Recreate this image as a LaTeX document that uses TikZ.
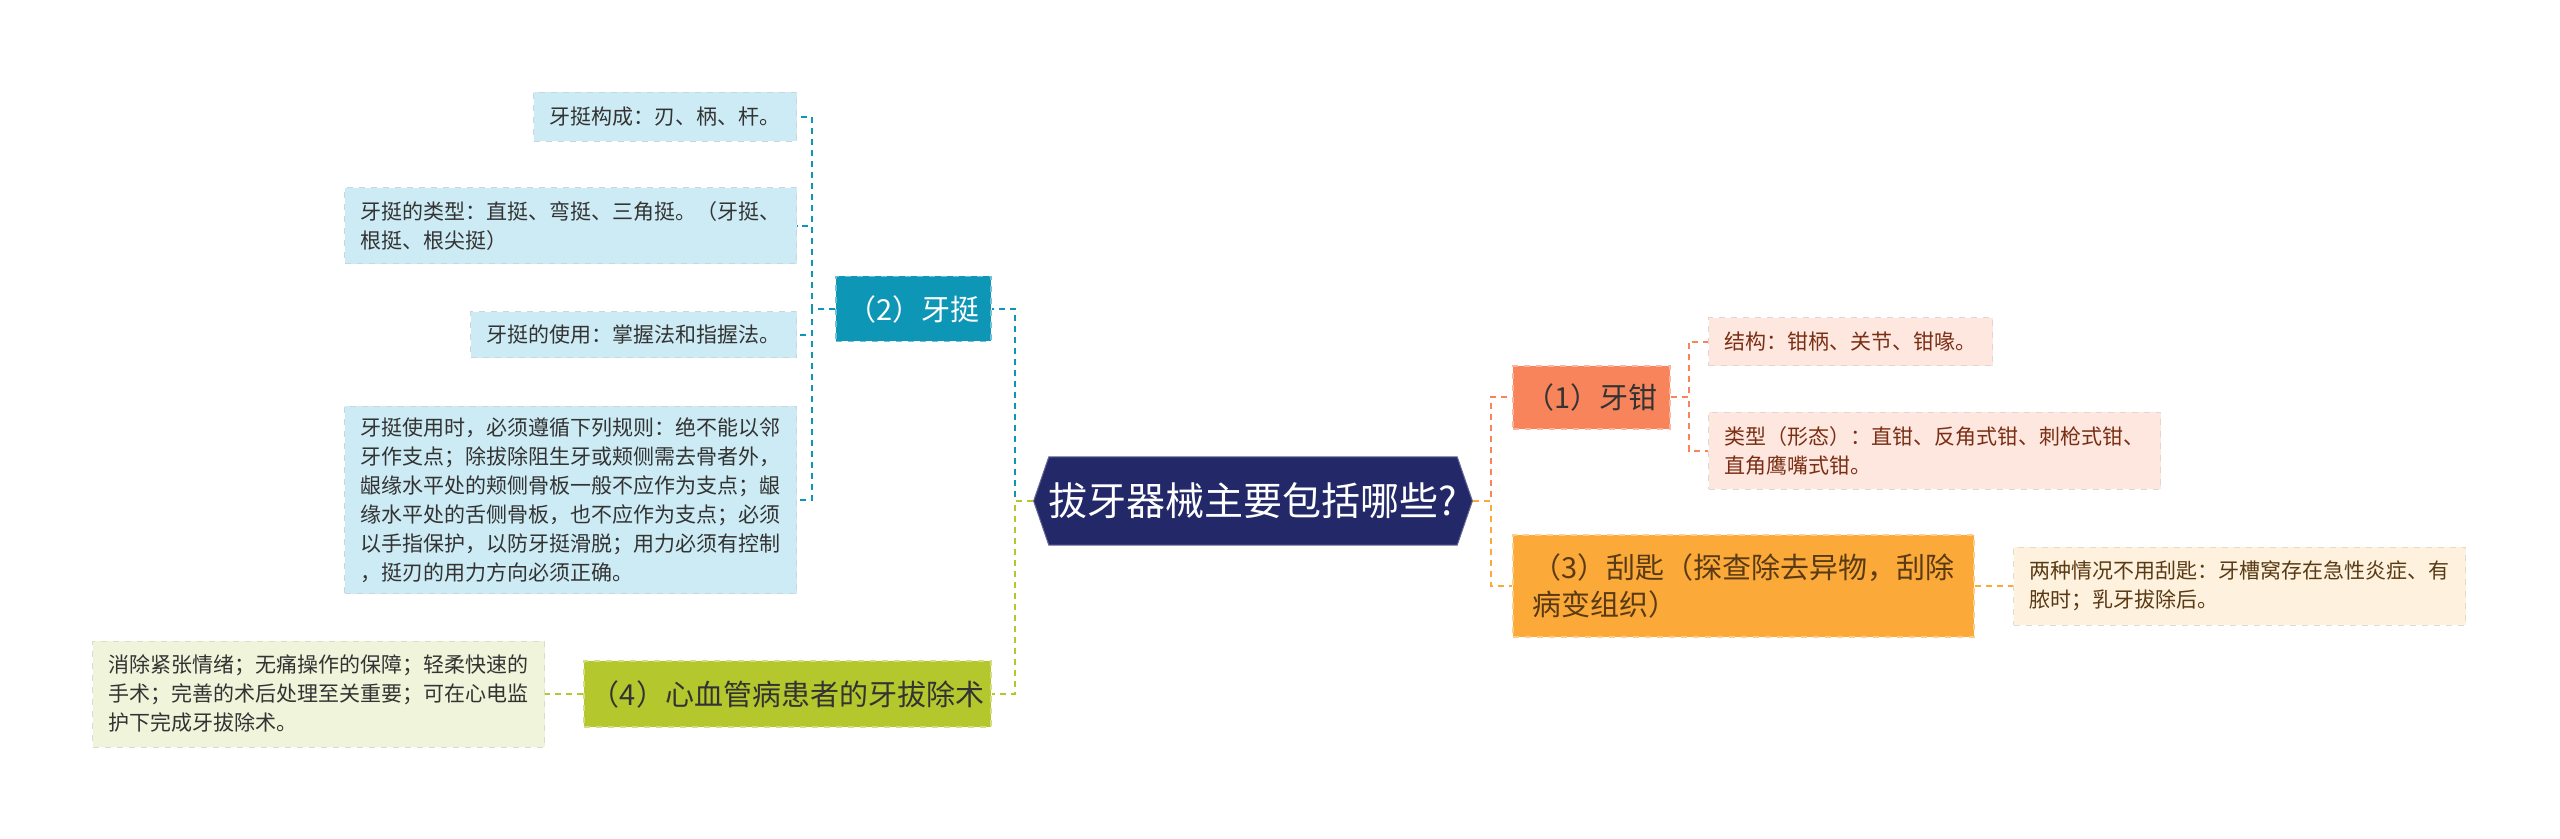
\documentclass[tikz,border=0pt]{standalone}
\usepackage{fontspec}
\setmainfont{Noto Sans CJK SC}
\usetikzlibrary{shapes.symbols}
\definecolor{rootc}{HTML}{222868}
\definecolor{tealc}{HTML}{0E96B7}
\definecolor{tealleaf}{HTML}{CDEBF4}
\definecolor{greenc}{HTML}{B4C82D}
\definecolor{greenleaf}{HTML}{EFF4DA}
\definecolor{coralc}{HTML}{F7845A}
\definecolor{coralleaf}{HTML}{FDE7DF}
\definecolor{orangec}{HTML}{FBAA3A}
\definecolor{orangeleaf}{HTML}{FEF1DE}
\definecolor{darktext}{HTML}{333333}
\definecolor{browntext}{HTML}{7A2E14}
\definecolor{ochretext}{HTML}{5A3A14}
\begin{document}
\begin{tikzpicture}[
x=0.5pt, y=-0.5pt,
every node/.style={align=left, inner xsep=8pt, inner ysep=5.5pt},
smalltxt/.style={font=\fontsize{10.5}{14.5}\selectfont},
midtxt/.style={font=\fontsize{14.5}{18.75}\selectfont},
leafbox/.style={smalltxt, fill=#1, draw=#1!80!black!60!white, dashed, line width=0.5pt},
branchbox/.style={midtxt, fill=#1, draw=#1!60!white, dashed, line width=0.6pt, inner xsep=3pt},
link/.style={draw=#1, dash pattern=on 3pt off 2.5pt, line width=1pt},
mainq/.style={shape=signal, signal to=west and east, signal pointer angle=142,
  fill=rootc, draw=rootc!70!white, line width=0.5pt, text=white,
  font=\fontsize{19.5}{22}\selectfont, minimum width=216pt, minimum height=44pt, inner xsep=0pt}
]
\useasboundingbox (0,0) rectangle (2560,839);

\node[mainq] (root) at (1253,501) {拔牙器械主要包括哪些?};

\node[branchbox=tealc, text=white, minimum width=77.5pt, minimum height=32.5pt, align=center] (n2) at (913.5,309) {（2）牙挺};
\node[branchbox=greenc, text=darktext, minimum width=203.5pt, minimum height=33pt, align=center] (n4) at (787.5,694) {（4）心血管病患者的牙拔除术};
\node[branchbox=coralc, text=darktext, minimum width=78.5pt, minimum height=31.5pt, align=center] (n1) at (1591.5,397.5) {（1）牙钳};
\node[branchbox=orangec, text=ochretext, minimum width=230.5pt, minimum height=51pt] (n3) at (1743.5,586) {（3）刮匙（探查除去异物，刮除\\病变组织）};

\node[leafbox=tealleaf, text=darktext, anchor=east, minimum height=24.5pt] (a1) at (797,117) {牙挺构成：刃、柄、杆。};
\node[leafbox=tealleaf, text=darktext, anchor=east, minimum height=38pt] (a2) at (797,226) {牙挺的类型：直挺、弯挺、三角挺。（牙挺、\\根挺、根尖挺）};
\node[leafbox=tealleaf, text=darktext, anchor=east, minimum height=23pt] (a3) at (797,335) {牙挺的使用：掌握法和指握法。};
\node[leafbox=tealleaf, text=darktext, anchor=east, minimum height=93.5pt] (a4) at (797,500) {牙挺使用时，必须遵循下列规则：绝不能以邻\\牙作支点；除拔除阻生牙或颊侧需去骨者外，\\龈缘水平处的颊侧骨板一般不应作为支点；龈\\缘水平处的舌侧骨板，也不应作为支点；必须\\以手指保护，以防牙挺滑脱；用力必须有控制\\，挺刃的用力方向必须正确。};

\node[leafbox=greenleaf, text=darktext, anchor=east, minimum height=53pt] (d1) at (545,694) {消除紧张情绪；无痛操作的保障；轻柔快速的\\手术；完善的术后处理至关重要；可在心电监\\护下完成牙拔除术。};

\node[leafbox=coralleaf, text=browntext, anchor=west, minimum height=24pt] (b1) at (1708,342) {结构：钳柄、关节、钳喙。};
\node[leafbox=coralleaf, text=browntext, anchor=west, minimum height=38.5pt] (b2) at (1708,451) {类型（形态）：直钳、反角式钳、刺枪式钳、\\直角鹰嘴式钳。};

\node[leafbox=orangeleaf, text=ochretext, anchor=west, minimum height=39pt] (c1) at (2013,586) {两种情况不用刮匙：牙槽窝存在急性炎症、有\\脓时；乳牙拔除后。};

\draw[link=tealc] (root.west) -- ++(-18,0) |- (n2.east);
\draw[link=greenc] (root.west) -- ++(-18,0) |- (n4.east);
\draw[link=tealc] (n2.west) -- ++(-23,0) |- (a1.east);
\draw[link=tealc] (n2.west) -- ++(-23,0) |- (a2.east);
\draw[link=tealc] (n2.west) -- ++(-23,0) |- (a3.east);
\draw[link=tealc] (n2.west) -- ++(-23,0) |- (a4.east);
\draw[link=greenc] (n4.west) -- (d1.east);
\draw[link=coralc] (root.east) -- ++(18,0) |- (n1.west);
\draw[link=orangec] (root.east) -- ++(18,0) |- (n3.west);
\draw[link=coralc] (n1.east) -- ++(18,0) |- (b1.west);
\draw[link=coralc] (n1.east) -- ++(18,0) |- (b2.west);
\draw[link=orangec] (n3.east) -- (c1.west);
\end{tikzpicture}
\end{document}
